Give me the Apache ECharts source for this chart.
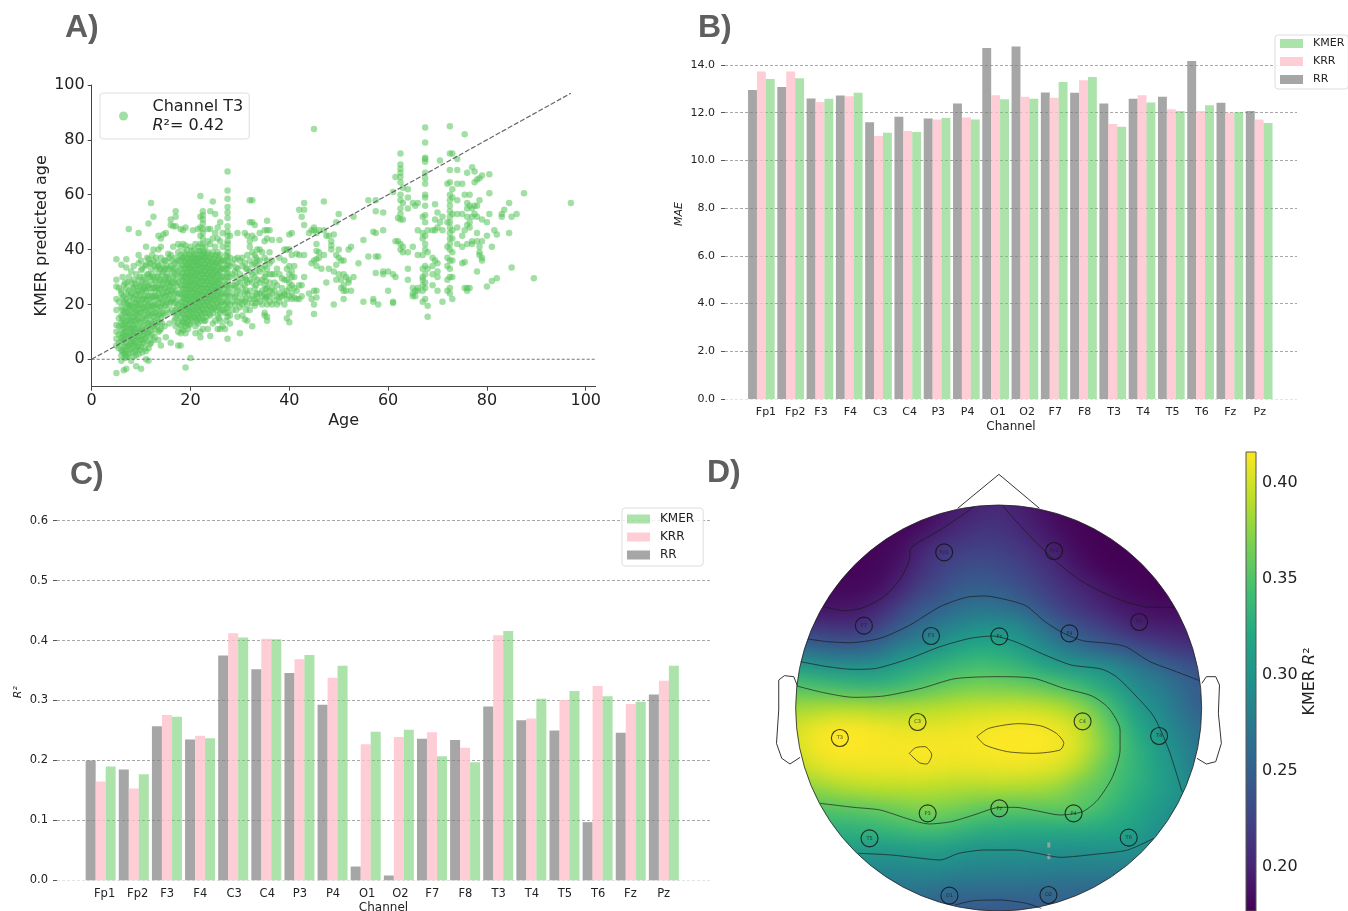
<!DOCTYPE html>
<html><head><meta charset="utf-8">
<script src="https://cdn.jsdelivr.net/npm/echarts@6/dist/echarts.min.js"></script>
<style>
html,body{margin:0;padding:0;background:#fff;width:1348px;height:911px;overflow:hidden}
#heatClip{position:absolute;left:0;top:0;width:1348px;height:911px;clip-path:circle(203px at 998.6px 708px)}
#heat{position:absolute;left:0;top:0;width:1348px;height:960px;filter:blur(9px)}
#main{position:absolute;left:0;top:0;width:1348px;height:911px}
</style></head><body>
<div id="heatClip"><div id="heat"></div></div>
<div id="main"></div>
<script>
const channels=['Fp1','Fp2','F3','F4','C3','C4','P3','P4','O1','O2','F7','F8','T3','T4','T5','T6','Fz','Pz'];
const maeRR=[12.95,13.08,12.6,12.72,11.6,11.83,11.76,12.39,14.71,14.78,12.85,12.84,12.39,12.59,12.67,14.17,12.42,12.07];
const maeKRR=[13.73,13.73,12.45,12.69,11.02,11.23,11.72,11.8,12.73,12.67,12.63,13.36,11.53,12.73,12.14,12.07,12.0,11.72];
const maeKMER=[13.41,13.44,12.59,12.84,11.16,11.19,11.78,11.72,12.56,12.59,13.29,13.5,11.41,12.43,12.07,12.31,12.03,11.57];
const r2RR=[.200,.185,.257,.235,.375,.352,.346,.293,.023,.008,.236,.234,.290,.267,.250,.097,.246,.310];
const r2KRR=[.165,.153,.276,.241,.412,.403,.369,.338,.227,.239,.247,.221,.409,.270,.301,.324,.294,.333];
const r2KMER=[.190,.177,.273,.237,.405,.402,.376,.358,.248,.251,.207,.197,.416,.303,.316,.307,.298,.358];

// Panel A: [age, predicted ages at that age]
const scatterColumns=[
[5,[36.5,29,26.5,22,18,12.5,10,7.5,5,-5]],[5.5,[26,21,15,12,9,6,4]],
[6,[34.5,25,24,19,16,13.5,11,8,6.5,3.5,1.5,-.5]],[6.5,[27,23,20.5,17,14,11.5,9,7,4.5,2,-4]],
[7,[36.5,33.5,26,22,18.5,15.5,12,10,6,3,1,-3.5]],[7.5,[47.5,30,25,21,19,16,13,8,5,2]],
[8,[32,28,24,20,17.5,14,11,9,6.5,4,-.5]],[8.5,[34,29,26,22,19,15.5,12.5,10,7,5,1]],
[9,[31,27,23.5,20.5,18,16,13,9.5,6,3.5,1.5,-2.5]],[9.5,[46,38,35,29,25,21.5,18.5,15,11,8,5,2]],
[10,[36,32.5,27,24,20,17,13.5,10,7,4.5,-3.5]],[10.5,[30,26,22,19,16,12,9,6]],
[11,[41,34.5,28,25,21.5,18,15,11,8,3,0]],[11.5,[49.5,36.5,31,27,23,20,17,13,10,4,-.5]],
[12,[57,35,33,29,24.5,21,18,14,10.5,6]],[12.5,[52,40,36,30,26,22.5,19,15.5,12,7]],
[13,[37,33,28,25,23,20,17,13]],[13.5,[45,40,34,31,27,24,20.5,16,10,7]],
[14,[44,41,37,33,29,26,22,19,15,11,5]],[14.5,[45.5,32,28,24,21,17]],
[15,[46,36,33,30,26,23,20,8]],[15.5,[38.5,30,28,25,22]],
[16,[51,49,38,34,27,24,21,6]],[16.5,[48.5,41,33,30,26,22]],
[17,[54,52,48.5,37,33,29,25,21,18,15,12]],[17.5,[42,39,36,32,28,24,20,17,13,10,5]],
[18,[47.5,41,38,36,33,30,27,24,21,18,15,12.5,9.5,5]],[18.5,[47,42,37,34.5,31.5,28.5,25.5,22.5,19.5,16.5,13.5,10.5]],
[19,[48,41.5,38,35.5,33,30.5,28,25.5,23,20.5,18,15,12,9.5,-3]],[19.5,[36.5,34,31.5,29,26.5,24,21.5,19,16.5,14,11]],
[20,[41,38.5,36,33.5,31,28.5,26,23.5,21,18.5,16,13,.5]],[20.5,[47,37,34.5,32,29.5,27,24.5,22,19.5,17,14]],
[21,[42,38,35.5,33,30.5,28,25.5,23,20.5,18,15,12,9.5]],[21.5,[47.5,41,36.5,34,31.5,29,26.5,24,21.5,19,16,13]],
[22,[59.5,52,48,45,42,39.5,37,34.5,32,29.5,27,24.5,22,19.5,17,14,10,8]],
[22.5,[54,52.5,51,49.5,47.5,46,44,42,40,38,36,33.5,31,28.5,26,23.5,21,18,15,11]],
[23,[41,37.5,35,32.5,30,27.5,25,22.5,20,17,14]],[23.5,[47.5,43,39,36,33.5,31,28.5,26,23.5,21,18,11]],
[24,[54,47.5,42,37,34.5,32,29.5,27,24.5,22,19,16,8.5]],[24.5,[57.5,44,39,35.5,33,30.5,28,25.5,23,20,17,13]],
[25,[53,46,41,37.5,35,32.5,30,27.5,25,22,19,14]],[25.5,[48,44,39,36,33.5,31,28.5,26,23,20,16,11]],
[26,[50,43,38,35,32,29,26,23,20,17,14,11]],[26.5,[46,41,36,33,30,27,24,21,18,12]],
[27,[36,33,29,26,23,20,17,11]],
[27.5,[68.5,61.5,58.5,55.5,53.5,51.5,48.5,46.5,45,43,42,40.5,39,37.5,36,34.5,33,31.5,30,28.5,27,25,23,21,19,17,15.5,7.5]],
[28,[45,37,34,30,26,23,20,16,13]],[28.5,[35,31,27,24,21,18]],[29,[36.5,32,27,22.5,20]],
[29.5,[46,37,33,28,25,21,15.5]],[30,[36,31,28,24,21,19,9.5]],[30.5,[37,34,29.5,26,22,20,16]],
[31,[46,35,30,27,24,21,14.5]],[31.5,[45,38,33,28,24,20,14]],[32,[58,50,43,41,36,32,29,25,22,18]],
[32.5,[58,50,45,39,34.5,31,28,23,20.5,12]],[33,[49,44,38,35,30,26,22,19.5]],[33.5,[40,36,34,29,24,22]],
[34,[46,40,36,32,28,24,21]],[34.5,[39,33,29,25,23,20]],[35,[47,43,37,34,30,27,24,22,17,16]],
[35.5,[50.5,47,44,36,33,26,23,20,15.5,14]],[36,[47,39,35,31,28,25,23,21]],[36.5,[43.5,36,31,26,24,20]],
[37,[31,28,25,21.5]],[38,[43.5,37,31,24,22.5,21]],[39,[40,36,29,24,23.5,20]],[39.5,[40,33,29,25,22,15]],
[40,[45.5,40,34,31,28,26,23,17,13.5]],[40.5,[46,38,32,30,27,24,22]],[41,[34,30,26,22.5]],[41.5,[38.5,25,22]],
[42,[54.5,38,27,22]],[42.5,[52,27,23]],[43,[57,54.5,49,38,30]],[44,[46,24]],[44.5,[47,35,22]],
[45,[84,48,47,36,25,20,16.5]],[45.5,[46,42,39.5,36.5,34,25,22.5]],[46,[47,39,37]],[46.5,[33]],[47,[57.5,47,38]],
[47.5,[45,28]],[48,[45,33]],[48.5,[43,41.5,40]],[49,[45.5,32,20]],[49.5,[50,38,34.5,29]],[50,[53,40,37,31]],
[50.5,[36,29,26]],[51,[36,31,27,25,22]],[51.5,[30,25]],[52,[40,29,28]],[52.5,[41,25]],[53,[52,30]],[54,[35]],
[55,[43.5,21]],[56,[58,37.5]],[57,[46.5,22,21]],[57.5,[58,54,46,37.5,31.5]],[58,[37.5,20]],[59,[53.5,47,32,31]],
[60,[32,25]],[61,[61,31,21,20.5]],[61.5,[66.5,43,30]],[62,[51.5,43]],
[62.5,[75,71,69.5,68,66.5,64.5,60,58,55,53,51,42,40]],[63,[62.5,57,51,41,39]],[64,[62,59,55,39,33,29]],
[65,[57,41,26,24,23]],[65.5,[56,25,23]],[66,[57,47,38,26,25]],[67,[52,46,44,38,33,30,29,27,25,21]],
[67.5,[84.5,79,73.5,73,72,68,66,64,60,59,56,52.5,50,45,42,40,34,31,28,26,22]],[68,[47,39,33,19.5,15.5]],
[69,[47,37,34,31,27]],[69.5,[56.5,51,47,36]],[70,[53.5,48,35,32,30,25]],[70.5,[72.5,50]],[71,[52,47,21]],
[72,[64,50,41,37,34,29,25]],
[72.5,[85,75,69,64.5,60,58,56,54,52,50,48,46,44,42,40,36,33,30,26,24]],[73,[75,62,59,53,47,44,39,36,30,22]],
[74,[73,69,64,58,53,48,42]],[75,[64,53,45,41,35]],[75.5,[82,60,47,35.5,26]],[76,[68,57,55,52,49,42,26,25]],
[76.5,[60,56,50,48,26]],[77,[70,55,52,43,42]],[77.5,[68.5,64.5,56,53]],[78,[65.5,56,52,46,43,32]],
[78.5,[66,58,41,39,38]],[79,[67,51,43,37,36]],[80,[50,45,26.5]],[80.5,[67.5,60.5,53]],[81,[41,28.5]],[81.5,[47]],
[82,[45.5,29.5]],[83,[53,52]],[83.5,[54.5]],[84.5,[57,46]],[85,[52,33.5]],[86,[53]],[87.5,[60.5]],[89.5,[29.5]],[97,[57]]
];
const scatterDenseColumns=[
[6.25,[30,22.5,18,15,12.5,9.5,7.5,3]],[7.25,[28,24,20,17,14,11,8.5,4.5,1]],[8.25,[26,22.5,18.5,15,12,10,7.5,5.5,2.5]],
[9.25,[25,22,19.5,17,14.5,11.5,8,4.5]],[10.25,[33,28,25,22,18.5,15,11.5,8.5,6,2.5]],[11.25,[37,31,26.5,23,19.5,16,13,9.5,6.5]],
[12.25,[38,31,27,23,19.5,16.5,13,9]],[13.25,[35,30,26,22,18.5,15,12]],[14.25,[35,31,27,24,20.5,17,13]],
[15.25,[34,31,28,24.5,21,18]],[16.25,[36,32,28,25,21.5,18]],[17.25,[35,31,27,23,19,16]],
[6.75,[28,21,17.5,13,10,8,5,2.5,.5]],[7.75,[23,19.5,16.5,14,11.5,9,6,3.5]],[8.75,[27.5,24,20.5,17,14,11,8.5,6,3]],
[9.75,[30,26.5,23,20,17,13.5,10,7,3.5]],[10.75,[34,29,25.5,23,20.5,18,14,10.5,7.5,4]],[11.75,[35,30,26,22,19,16,12,8.5,5.5]],
[12.75,[34,29,26,23,20,17,14,11,8]],[13.75,[33,29,25.5,22.5,19,16.5,13.5,10.5]],[14.75,[36,33,29,26,23,19.5,16,12]],
[15.75,[37,33,29,26.5,23.5,20,17,13]],[16.75,[35,31,28,24,20.5,17,14]],
[18.25,[37,34,31,29,26,23.5,21,19,17,14,11]],[18.75,[39,36,33,30,27,24,22,19,16,13]],
[19.25,[40,37,34.5,32,29.5,27,24.5,22,20,17.5,15,13]],[19.75,[38,35,33,30.5,28,25.5,23,20.5,18,15.5,12.5]],
[20.25,[39.5,37,35,32.5,30,27.5,25,22.5,20,17.5,15]],[20.75,[40,37.5,35.5,33,30.5,28,25.5,23,20.5,18,15.5]],
[21.25,[38.5,36,34,31.5,29,26.5,24,21.5,19,16.5,14]],[21.75,[39.5,37,35,32.5,30,27.5,25,22.5,20,17.5,15]],
[22.25,[38,36,33.5,31,28.5,26,23.5,21,18.5,16]],[22.75,[39,37,34.5,32,29.5,27,24.5,22,19.5,17,14]],
[23.25,[38.5,36,33.5,31,28.5,26,23.5,21,18.5,15.5]],[23.75,[37,34.5,32,29.5,27,24.5,22,19.5,16.5]],
[24.25,[38,35.5,33,30.5,28,25.5,23,20.5,18]],[24.75,[36.5,34,31.5,29,26.5,24,21.5,18.5]],
[25.25,[38,35,32,29,26.5,24,21,18]],[25.75,[37,34,31,28,25,22,19,15]],[26.25,[36,33,30,27,24,21,18]],
[27.25,[38,34,31,27,24,21,18.5,14]],[29.25,[33.5,30,26,23,18]],[31.25,[33,29,25,22,18]],
[33.25,[37,32,27,24,20.5]],[35.25,[31,28.5,25.5,22.5]],[37.5,[33,27,23,20]],[38.5,[29.5,26,23]]
];
const identityLine=[[0,0],[97,97]];
const zeroLine=[[0,0],[102,0]];

// Panel D: colour-read R2 (x1000) on a 23x23 lattice over the head
const fieldRows=[
[180,180,180,180,180,180,180,180,186,196,200,206,198,190,182,180,178,178,178,178,178,178,178],
[180,180,180,180,180,180,180,180,186,196,200,206,198,190,182,180,178,178,178,178,178,178,178],
[180,180,180,180,180,180,180,184,196,205,212,212,205,195,185,180,178,178,178,178,178,178,178],
[179,179,179,179,179,180,184,200,212,218,222,220,215,205,195,182,178,178,178,178,178,178,178],
[180,180,180,180,180,182,190,208,222,232,235,232,225,215,203,190,180,178,178,178,178,178,178],
[182,182,182,182,182,186,202,220,232,245,248,245,235,225,213,203,194,184,180,178,178,178,178],
[188,188,188,190,192,204,222,240,250,262,268,265,258,240,225,213,204,195,188,185,184,183,183],
[215,215,215,212,212,226,245,262,275,288,297,298,290,272,250,236,224,212,200,198,196,195,195],
[262,262,255,250,250,260,280,290,302,315,322,320,308,295,278,262,252,244,232,222,215,210,210],
[312,310,303,300,300,302,315,325,332,340,345,342,335,322,310,305,300,287,272,258,246,236,236],
[352,350,345,340,335,335,340,350,358,365,368,367,365,360,352,340,325,310,290,278,262,245,245],
[382,382,386,388,388,386,386,388,390,394,396,398,398,396,390,378,358,330,305,290,270,250,250],
[402,402,412,416,415,412,409,407,408,410,412,415,416,415,410,398,372,345,318,300,280,262,262],
[404,404,414,416,416,414,414,416,414,414,415,416,416,416,413,402,378,350,328,308,290,268,268],
[392,392,404,409,410,410,410,412,410,408,409,410,410,408,403,388,364,345,330,312,296,270,270],
[374,374,378,386,390,392,393,392,390,388,387,388,387,385,378,362,355,340,327,312,300,285,285],
[350,350,350,354,356,360,366,370,370,365,358,354,354,355,358,355,345,330,318,305,292,280,280],
[330,330,330,330,332,335,340,345,345,338,330,328,326,325,325,325,323,318,310,298,285,280,280],
[310,310,310,310,310,308,308,310,310,305,301,301,300,300,297,298,299,301,297,288,280,280,280],
[288,288,288,288,288,288,288,292,292,288,286,284,284,283,280,280,280,280,275,275,275,275,275],
[270,270,270,270,270,270,270,270,265,262,262,262,262,260,260,258,258,256,256,256,256,256,256],
[255,255,255,255,255,255,255,255,250,247,245,244,245,248,250,250,250,250,250,250,250,250,250],
[250,250,250,250,250,250,250,250,245,242,240,240,240,242,245,245,245,245,245,245,245,245,245]
];
const viridis=['#440154','#482475','#414487','#355f8d','#2a788e','#21918c','#22a884','#44bf70','#7ad151','#bddf26','#fde725'];
const cbarMin=.177, cbarMax=.416;
const cbarTicks=[.20,.25,.30,.35,.40];

// Sensor plane units
const electrodeNames=['Fp1','Fp2','F7','F3','Fz','F4','F8','T3','C3','C4','T4','P3','Pz','P4','T5','T6','O1','O2'];
const electrodeX=[491,784,277,456,638,825,1011,213,420,860,1064,447,638,836,292,983,505,769];
const electrodeY=[307,303,527,558,559,550,516,864,816,814,858,1090,1075,1090,1165,1163,1337,1335];
const headCentre=[636.3,774];
const smudges=[[770,1185],[770,1220]];
const noseLine=[[527,175],[637,73],[745,175]];
const leftEar=[[100,708],[90,680],[65,677],[50,690],[50,780],[44,880],[58,925],[80,942],[107,922]];
const rightEar=[[1178,700],[1190,680],[1215,680],[1225,705],[1222,790],[1230,880],[1215,935],[1190,942],[1165,925]];
const contours=[
[[570,170],[540,195],[480,240],[402,295],[398,330],[375,385],[330,440],[270,475],[225,482],[170,470]],
[[645,165],[680,210],[730,270],[790,335],[860,395],[950,445],[1040,472],[1105,472]],
[[128,567],[180,575],[240,578],[320,565],[400,525],[480,470],[550,442],[600,438],[660,450],[710,468],[760,515],[810,550],[860,572],[930,580],[975,590],[1040,635],[1110,665],[1172,692]],
[[108,635],[180,650],[250,658],[310,655],[400,625],[480,590],[560,565],[620,558],[680,575],[760,615],[830,645],[910,657],[950,680],[1000,735],[1050,800],[1090,900],[1125,1025]],
[[98,708],[170,728],[250,742],[330,738],[430,715],[520,686],[640,680],[730,685],[810,715],[885,738],[930,775],[960,840],[960,900],[940,980],[900,1050],[860,1085],[800,1095],[740,1083],[680,1072],[640,1072],[570,1095],[510,1115],[450,1122],[390,1105],[320,1080],[250,1072],[160,1060]],
[[262,1210],[350,1215],[430,1225],[480,1230],[530,1210],[600,1200],[680,1200],[740,1210],[800,1222],[900,1212],[980,1200],[1050,1165]],
[[578,860],[610,835],[690,821],[750,828],[790,850],[810,880],[800,900],[730,910],[660,905],[600,885],[578,860]],
[[398,910],[415,893],[440,890],[458,915],[445,942],[425,938],[398,910]],
[[520,1365],[570,1352],[640,1350],[710,1360],[750,1375]]
];

const FONT='"DejaVu Sans"';
const TXT='#222';
const heatData=[];
fieldRows.forEach((row,j)=>row.forEach((v,i)=>heatData.push([i,j,v/1000])));
const idx=fieldRows[0].map((_,i)=>i);
const heat=echarts.init(document.getElementById('heat'),null,{renderer:'canvas'});
heat.setOption({animation:false,
  grid:{left:769,top:478,width:460,height:460,outerBoundsMode:'none'},
  xAxis:{type:'category',data:idx,show:false},
  yAxis:{type:'category',data:fieldRows.map((_,j)=>j),inverse:true,show:false},
  visualMap:{show:false,min:cbarMin,max:cbarMax,calculable:false,inRange:{color:viridis}},
  series:[{type:'heatmap',data:heatData,silent:true,progressive:0,itemStyle:{borderWidth:0}}]
});

const grids=[],xAxes=[],yAxes=[],series=[];
function G(rect,x,y){rect.outerBoundsMode='none';grids.push(rect);xAxes.push(Object.assign({gridIndex:grids.length-1},x));yAxes.push(Object.assign({gridIndex:grids.length-1},y));return grids.length-1;}
const tick={lineStyle:{color:'#555',width:1}};
// A
const a=G({left:91.7,top:85,width:503.9,height:301.7},
 {type:'value',min:0,max:102,name:'Age',nameLocation:'middle',nameGap:26,nameTextStyle:{fontSize:16,color:TXT},
  splitLine:{show:false},axisLine:{onZero:false,lineStyle:{color:'#444'}},
  axisTick:{customValues:[0,20,40,60,80,100],length:4,lineStyle:{color:'#444'}},
  axisLabel:{customValues:[0,20,40,60,80,100],fontSize:16,color:TXT,margin:6}},
 {type:'value',min:-10,max:100,name:'KMER predicted age',nameLocation:'middle',nameRotate:90,nameGap:42,nameTextStyle:{fontSize:16,color:TXT},
  splitLine:{show:false},axisLine:{show:true,onZero:false,lineStyle:{color:'#444'}},
  axisTick:{show:true,customValues:[0,20,40,60,80,100],length:4,lineStyle:{color:'#444'}},
  axisLabel:{customValues:[0,20,40,60,80,100],fontSize:16,color:TXT,margin:7,padding:[4,0,0,0]}});
const pts=[];scatterColumns.concat(scatterDenseColumns).forEach(c=>c[1].forEach(v=>pts.push([c[0],v])));
series.push({name:'Channel T3',type:'scatter',xAxisIndex:a,yAxisIndex:a,data:pts,symbolSize:6.5,silent:true,itemStyle:{color:'#55c45a',opacity:.55}});
series.push({type:'line',xAxisIndex:a,yAxisIndex:a,data:identityLine,symbol:'none',silent:true,lineStyle:{color:'#666',width:1.2,type:[5,2]},z:5});
series.push({type:'line',xAxisIndex:a,yAxisIndex:a,data:zeroLine,symbol:'none',silent:true,lineStyle:{color:'#777',width:1.2,type:[3,2]},z:5});

function barPanel(o){
 const gl=[...Array(o.nGrid).keys()].map(i=>i==0?'#e4e4e4':'#a8a8a8');
 const g0=G({left:o.axLeft,top:o.axTop,width:o.axWidth,height:o.bottom-o.axTop},
  {type:'value',min:0,max:1,name:'Channel',nameLocation:'middle',nameGap:o.nameGap,nameTextStyle:{fontSize:12,color:TXT},
   axisLine:{show:false},axisTick:{show:false},axisLabel:{show:false},splitLine:{show:false}},
  {type:'value',min:0,max:o.axMax,interval:o.step,axisLine:{show:false},axisTick:{show:true,length:4,lineStyle:tick.lineStyle},
   axisLabel:{fontSize:o.font,color:TXT,margin:o.yMargin,formatter:v=>v.toFixed(1)},
   splitLine:{show:true,lineStyle:{type:[3,2],color:gl,width:1}}});
 const barH=(o.bottom-o.axTop)/o.axMax*o.barMax;
 const g1=G({left:o.barLeft,top:o.bottom-barH,width:o.band*18,height:barH},
  {type:'category',data:channels,show:false},
  {type:'value',min:0,max:o.barMax,name:o.yName,nameLocation:'middle',nameRotate:90,nameGap:o.yNameGap,nameTextStyle:{fontSize:11,fontStyle:'italic',color:TXT},
   axisLine:{show:false},axisTick:{show:false},axisLabel:{show:false},splitLine:{show:false}});
 const g2=G({left:o.barLeft-o.shift,top:o.bottom-barH,width:o.band*18,height:barH},
  {type:'category',data:channels,axisLine:{show:false},axisTick:{alignWithLabel:true,length:4,lineStyle:tick.lineStyle},
   axisLabel:{interval:0,align:'left',fontSize:o.font,color:TXT,margin:8}},
  {type:'value',min:0,max:o.barMax,show:false});
 [['RR',o.rr,'#808080',.7],['KRR',o.krr,'#ffc0cb',.8],['KMER',o.kmer,'#66cc66',.55]].forEach(s=>{
  series.push({name:s[0],type:'bar',xAxisIndex:g1,yAxisIndex:g1,data:s[1],barWidth:o.barW,barGap:'0%',silent:true,itemStyle:{color:s[2],opacity:s[3]}});
 });
}
barPanel({axLeft:725,axTop:65,axWidth:572,bottom:399,axMax:14,step:2,nGrid:8,barMax:15.5,barLeft:746.76,band:29.28,shift:5.6,barW:8.9,
 font:11,yMargin:10,nameGap:22,yName:'MAE',yNameGap:62,rr:maeRR,krr:maeKRR,kmer:maeKMER});
barPanel({axLeft:57,axTop:520.7,axWidth:653,bottom:880.3,axMax:.6,step:.1,nGrid:7,barMax:.628,barLeft:84.1,band:33.13,shift:6.7,barW:10,
 font:11.5,yMargin:9,nameGap:22,yName:'R²',yNameGap:60,rr:r2RR,krr:r2KRR,kmer:r2KMER});

// D head
const d=G({left:755,top:454,width:487,height:457},
 {type:'value',min:-13.3,max:1285,show:false},{type:'value',min:12,max:1383,inverse:true,show:false});
const hl=(data,w,c,o)=>({type:'line',xAxisIndex:d,yAxisIndex:d,data,symbol:'none',silent:true,clip:false,lineStyle:{color:c,width:w,opacity:o}});
contours.forEach(c=>series.push(Object.assign(hl(c,.9,'#1a1a1a',.75),{smooth:.25})));
[noseLine,leftEar,rightEar].forEach(c=>series.push(hl(c,1,'#333',1)));
series.push({type:'scatter',xAxisIndex:d,yAxisIndex:d,data:[headCentre],symbolSize:406,silent:true,clip:false,itemStyle:{color:'transparent',borderColor:'#222',borderWidth:1}});
series.push({type:'scatter',xAxisIndex:d,yAxisIndex:d,symbol:'rect',symbolSize:[3,5],silent:true,data:smudges,itemStyle:{color:'#aaa'}});
series.push({type:'scatter',xAxisIndex:d,yAxisIndex:d,symbolSize:17,silent:true,clip:false,
 data:electrodeNames.map((n,i)=>[electrodeX[i],electrodeY[i],n]),
 itemStyle:{color:'transparent',borderColor:'#111',borderWidth:1.1},
 label:{show:true,position:'inside',fontSize:5,color:'#222',formatter:p=>p.data[2]}});

// colour bar
const cb=G({left:1246,top:452,width:10,height:459},
 {type:'value',min:0,max:1,show:false},
 {type:'value',min:cbarMin,max:cbarMax,position:'right',name:'{b|KMER }{i|R}{b|²}',nameLocation:'middle',nameRotate:90,nameGap:46,
  nameTextStyle:{fontSize:16,color:TXT,rich:{b:{fontSize:16,color:TXT},i:{fontSize:16,fontStyle:'italic',color:TXT}}},
  axisLine:{show:false},splitLine:{show:false},
  axisTick:{show:true,customValues:cbarTicks,length:4,lineStyle:{color:'#333'}},
  axisLabel:{customValues:cbarTicks,fontSize:16,color:TXT,margin:6,padding:[4,0,0,0],formatter:v=>v.toFixed(2)}});
series.push({type:'custom',xAxisIndex:cb,yAxisIndex:cb,silent:true,data:[[0,cbarMin,1,cbarMax]],encode:{x:[0,2],y:[1,3]},
 renderItem:(p,api)=>{
  const a1=api.coord([api.value(0),api.value(3)]),b1=api.coord([api.value(2),api.value(1)]);
  return {type:'rect',shape:{x:a1[0],y:a1[1],width:b1[0]-a1[0],height:b1[1]-a1[1]},
   style:{stroke:'#555',lineWidth:1,fill:new echarts.graphic.LinearGradient(0,1,0,0,viridis.map((c,i)=>({offset:i/(viridis.length-1),color:c})))}};
 }});

const letter=(text,left,top)=>({text,left,top,textStyle:{fontFamily:'"Liberation Sans"',fontWeight:'bold',fontSize:32,color:'#5f5f5f'},padding:0});
const legendBase={orient:'vertical',selectedMode:false,backgroundColor:'rgba(255,255,255,.8)',borderColor:'#ddd',borderWidth:1,borderRadius:3,icon:'rect'};
const main=echarts.init(document.getElementById('main'),null,{renderer:'canvas'});
main.setOption({animation:false,backgroundColor:'transparent',textStyle:{fontFamily:FONT},
 title:[letter('A)',65,12),letter('B)',698,12),letter('C)',70,459),letter('D)',707,457)],
 legend:[
  {selectedMode:false,left:100,top:93,orient:'vertical',data:[{name:'Channel T3',icon:'circle'}],itemWidth:28,itemHeight:9,itemGap:0,
   borderColor:'#ddd',borderWidth:1,borderRadius:3,padding:[4,6,4,19],
   formatter:()=>'Channel T3\n{i|R}²= 0.42',textStyle:{fontSize:16,color:TXT,lineHeight:19,padding:[0,0,0,10],rich:{i:{fontStyle:'italic',fontSize:16,color:TXT}}}},
  Object.assign({},legendBase,{left:1275,top:35,data:['KMER','KRR','RR'],itemWidth:23,itemHeight:9,itemGap:7,padding:[3,4,4,5],textStyle:{fontSize:11,color:TXT,padding:[0,0,0,5]}}),
  Object.assign({},legendBase,{left:622,top:508,data:['KMER','KRR','RR'],itemWidth:23,itemHeight:9,itemGap:6,padding:[5,9,5,5],textStyle:{fontSize:12,color:TXT,padding:[0,0,0,5]}})
 ],
 grid:grids,xAxis:xAxes,yAxis:yAxes,series});
</script>
</body></html>
